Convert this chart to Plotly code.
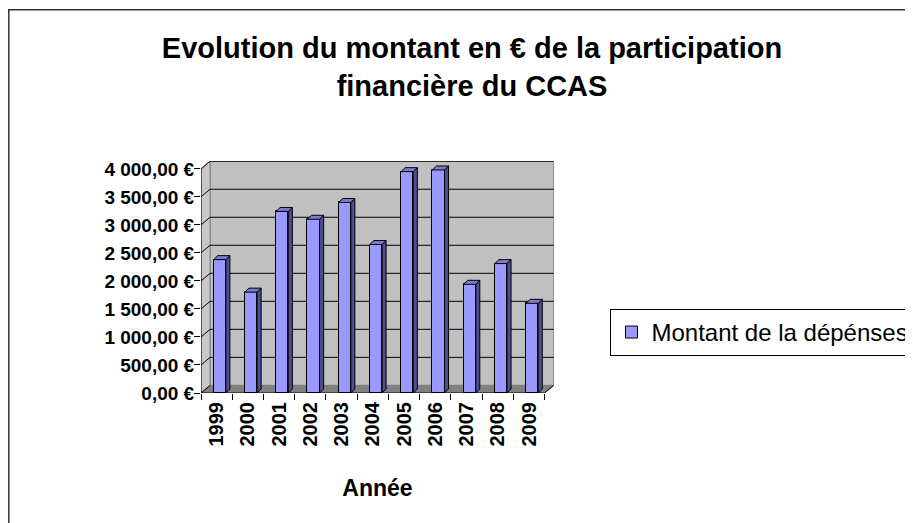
import plotly.graph_objects as go

# ---- data ----
years = ["1999", "2000", "2001", "2002", "2003", "2004", "2005", "2006", "2007", "2008", "2009"]
montants = [2380, 1800, 3240, 3100, 3400, 2650, 3950, 3980, 1940, 2310, 1600]
y_ticks = [0, 500, 1000, 1500, 2000, 2500, 3000, 3500, 4000]
series_name = "Montant de la dépénses"
title_text = "Evolution du montant en € de la participation<br>financière du CCAS"
x_title = "Année"

FONT = "Liberation Sans, Arial, sans-serif"

def fmt_eur(v):
    s = f"{v:,.2f}".replace(",", " ").replace(".", ",")
    return s + " €"

n = len(years)
idx = list(range(n))

# 3D look parameters (in axis units)
DX, DY = 0.29, 136      # wall depth
BDX, BDY = 0.13, 71     # bar depth
BW = 0.39               # bar width
BOFF = 0.10             # bar shift within category
YMAX = 4000
XR = [-0.5, n - 0.5 + DX + 0.01]
YR = [0, YMAX + DY + 4]

OFF = 8                 # page body margin compensation
PL, PW = 201 - OFF, 352.6
PB, PH = 393 - OFF, 231.8

fig = go.Figure()

# front faces
bx = [i + BOFF for i in idx]
fig.add_trace(go.Bar(
    x=bx, y=montants, width=BW, name=series_name,
    marker=dict(color="#9999FF", line=dict(color="black", width=1)),
    showlegend=True,
))

# side faces
sx, sy = [], []
for x, v in zip(bx, montants):
    r = x + BW / 2
    sx += [r, r + BDX, r + BDX, r, r, None]
    sy += [0, BDY, v + BDY, v, 0, None]
fig.add_trace(go.Scatter(x=sx, y=sy, fill="toself", mode="lines",
                         fillcolor="#4D4D8F", line=dict(color="black", width=1),
                         showlegend=False, hoverinfo="skip"))
# top faces
tx, ty = [], []
for x, v in zip(bx, montants):
    l, r = x - BW / 2, x + BW / 2
    tx += [l, l + BDX, r + BDX, r, l, None]
    ty += [v, v + BDY, v + BDY, v, v, None]
fig.add_trace(go.Scatter(x=tx, y=ty, fill="toself", mode="lines",
                         fillcolor="#7A7AD0", line=dict(color="black", width=1),
                         showlegend=False, hoverinfo="skip"))

# invisible trace for the boundary tick axis
fig.add_trace(go.Scatter(x=[0], y=[0], xaxis="x2", mode="markers",
                         marker=dict(opacity=0), showlegend=False, hoverinfo="skip"))

shapes = []
x0, x1 = -0.5, n - 0.5
# back wall
shapes.append(dict(type="rect", xref="x", yref="y", x0=x0 + DX, x1=x1 + DX, y0=DY, y1=YMAX + DY,
                   fillcolor="#C0C0C0", line=dict(color="#808080", width=1), layer="below"))
# side wall
shapes.append(dict(type="path", xref="x", yref="y",
                   path=f"M {x0},0 L {x0},{YMAX} L {x0+DX},{YMAX+DY} L {x0+DX},{DY} Z",
                   fillcolor="#C8C8C8", line=dict(color="#808080", width=1), layer="below"))
# floor
shapes.append(dict(type="path", xref="x", yref="y",
                   path=f"M {x0},0 L {x1},0 L {x1+DX},{DY} L {x0+DX},{DY} Z",
                   fillcolor="#808080", line=dict(color="#808080", width=1), layer="below"))
# gridlines
for v in y_ticks[1:]:
    shapes.append(dict(type="line", xref="x", yref="y", x0=x0 + DX, x1=x1 + DX, y0=v + DY, y1=v + DY,
                       line=dict(color="black", width=1), layer="below"))
for v in y_ticks:
    shapes.append(dict(type="line", xref="x", yref="y", x0=x0, x1=x0 + DX, y0=v, y1=v + DY,
                       line=dict(color="black", width=1), layer="below"))
# axis lines
shapes.append(dict(type="line", xref="x", yref="y", x0=x0, x1=x0, y0=0, y1=YMAX,
                   line=dict(color="black", width=1)))
shapes.append(dict(type="line", xref="x", yref="y", x0=x0, x1=x1, y0=0, y1=0,
                   line=dict(color="black", width=1)))
shapes.append(dict(type="line", xref="x", yref="y", x0=x1, x1=x1 + DX, y0=0, y1=DY,
                   line=dict(color="black", width=1)))
# outer chart border (cropped on right/bottom in the reference)
shapes.append(dict(type="rect", xref="paper", yref="paper",
                   x0=(9 - OFF - PL) / PW, x1=3, y0=-3, y1=(PB - (10 - OFF)) / PH,
                   line=dict(color="#333333", width=1.5), fillcolor="rgba(0,0,0,0)"))

fig.update_layout(
    width=913, height=523,
    margin=dict(l=PL, r=913 - PL - PW, t=PB - PH, b=523 - PB, autoexpand=False),
    paper_bgcolor="white", plot_bgcolor="white",
    font=dict(family=FONT, color="black"),
    title=dict(text=title_text, x=464 / 913, xanchor="center", xref="container",
               y=1 - 50 / 523, yanchor="top", yref="container",
               font=dict(size=29, family=FONT, weight="bold", color="black")),
    bargap=0,
    shapes=shapes,
    xaxis=dict(range=XR, tickmode="array", tickvals=idx, ticktext=years, ticks="",
               tickangle=-90, showgrid=False, zeroline=False, showline=False, automargin=False,
               ticklabelstandoff=4,
               tickfont=dict(size=20, family=FONT, weight="bold"),
               title=dict(text=x_title, standoff=34, font=dict(size=23, family=FONT, weight="bold"))),
    xaxis2=dict(range=XR, overlaying="x", anchor="y", side="bottom", tickmode="array",
                tickvals=[i - 0.5 for i in range(n + 1)], ticks="outside", ticklen=6,
                tickcolor="black", showticklabels=False, showgrid=False, zeroline=False,
                showline=False, automargin=False),
    yaxis=dict(range=YR, tickmode="array", tickvals=y_ticks, ticktext=[fmt_eur(v) for v in y_ticks],
               ticks="outside", ticklen=6, tickcolor="black", showgrid=False, zeroline=False,
               showline=False, ticklabelstandoff=-4, automargin=False,
               tickfont=dict(size=19, family=FONT, weight="bold")),
    legend=dict(x=(602 - PL) / PW, y=(PB - 301) / PH, xanchor="left", yanchor="top",
                bordercolor="black", borderwidth=1, bgcolor="white",
                font=dict(size=24, family=FONT, color="black")),
)

fig.write_html("out.html")
